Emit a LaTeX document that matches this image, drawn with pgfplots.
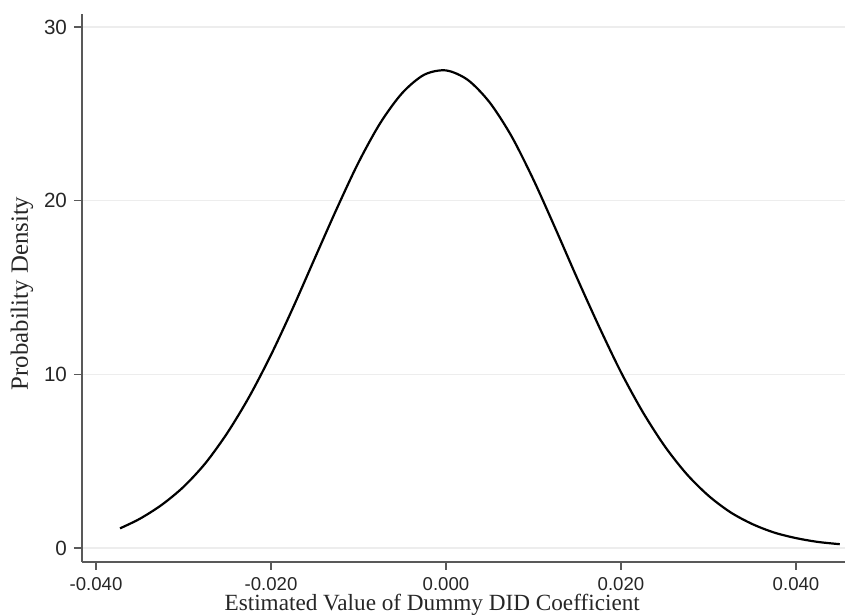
\documentclass[border=0pt]{standalone}
\usepackage{fontspec}
\setmainfont{Liberation Serif}
\setsansfont{Liberation Sans}
\usepackage{pgfplots}
\pgfplotsset{compat=1.18}

\begin{document}
\begin{tikzpicture}
\begin{axis}[
  name=ax,
  scale only axis, width=381.5pt, height=274pt,
  xmin=-0.0416, xmax=0.0456, ymin=-0.806, ymax=30.75,
  axis lines*=left,
  axis line style={-, draw=black!65, line width=0.85pt},
  tick align=outside, major tick length=4pt,
  tick style={draw=black!65, line width=0.7pt},
  scaled x ticks=false,
  xtick={-0.04,-0.02,0,0.02,0.04},
  xticklabels={-0.040,-0.020,0.000,0.020,0.040},
  ytick={0,10,20,30},
  /pgf/number format/assume math mode=true,
  xticklabel style={font=\sffamily\fontsize{9.3}{11}\selectfont, text=black!85},
  yticklabel style={font=\sffamily\fontsize{10.3}{12}\selectfont, text=black!85},
  ymajorgrids, grid style={draw=black!7, line width=0.6pt},
  xlabel={Estimated Value of Dummy DID Coefficient},
  ylabel={Probability Density},
  xlabel style={font=\fontsize{11.6}{13}\selectfont, text=black!85,
    at={(axis description cs:0.459,0)}, anchor=base, yshift=-24pt},
  ylabel style={font=\fontsize{12.4}{14}\selectfont, text=black!85,
    at={(axis description cs:0,0.49)}, anchor=center, yshift=30pt},
]
\addplot[black, line width=1.1pt, smooth] coordinates {
  (-0.03726,1.13) (-0.0350,1.68) (-0.0325,2.48) (-0.0300,3.52)
  (-0.0275,4.88) (-0.0250,6.62) (-0.0225,8.70) (-0.0200,11.12)
  (-0.0175,13.82) (-0.0150,16.68) (-0.0125,19.52) (-0.0100,22.20)
  (-0.0075,24.48) (-0.0050,26.20) (-0.0025,27.25) (0.0000,27.50)
  (0.0025,26.95) (0.0050,25.65) (0.0075,23.70) (0.0100,21.20)
  (0.0125,18.40) (0.0150,15.52) (0.0175,12.74) (0.0200,10.12)
  (0.0225,7.82) (0.0250,5.86) (0.0275,4.26) (0.0300,3.01)
  (0.0325,2.06) (0.0350,1.38) (0.0375,0.89) (0.0400,0.57)
  (0.0425,0.35) (0.0450,0.22)};
\end{axis}
\pgfresetboundingbox
\path[use as bounding box] ([xshift=-41pt,yshift=-26.5pt]ax.south west) rectangle ([yshift=7pt]ax.north east);
\end{tikzpicture}
\end{document}
